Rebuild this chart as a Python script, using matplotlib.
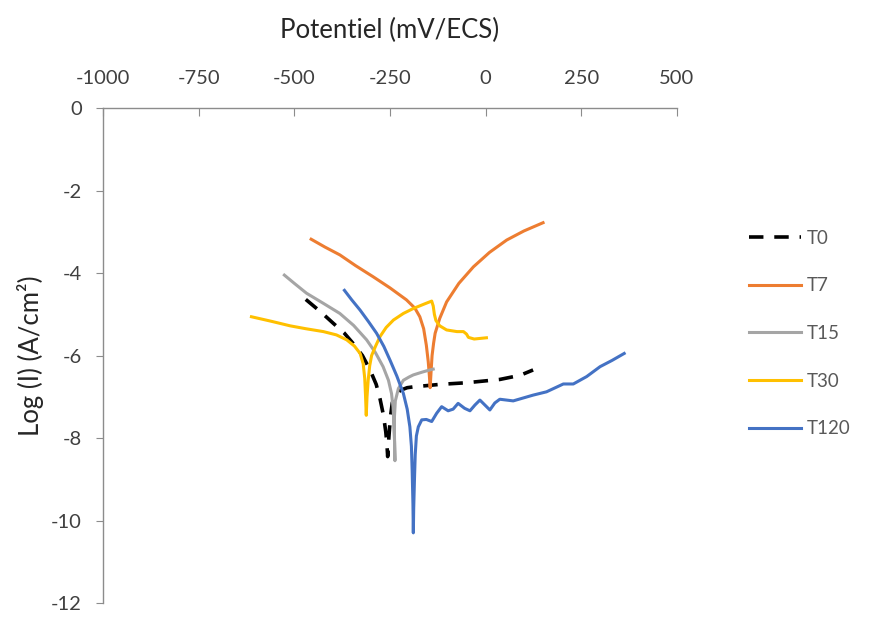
import matplotlib
matplotlib.use("Agg")
import matplotlib.pyplot as plt

# potentiel (mV/ECS) vs log(I)
t0_x = [-470, -430, -398, -370, -346, -322, -302, -286, -276, -267, -261, -258, -256, -253, -249, -244, -236, -222,
        -205, -189, -120, -50, 37, 90, 124]
t0_y = [-4.64, -4.95, -5.22, -5.45, -5.71, -6.0, -6.35, -6.7, -7.05, -7.45, -7.85, -8.15, -8.45, -8.0, -7.5, -7.15,
        -6.95, -6.84, -6.78, -6.76, -6.7, -6.66, -6.58, -6.48, -6.35]

t7_x = [-456, -420, -381, -340, -294, -250, -207, -185, -172, -162, -155, -150, -147, -145, -143, -140, -136, -132,
        -120, -102, -70, -32, 10, 55, 100, 150]
t7_y = [-3.18, -3.37, -3.56, -3.82, -4.09, -4.36, -4.65, -4.85, -5.06, -5.35, -5.75, -6.15, -6.5, -6.78, -6.45,
        -6.0, -5.7, -5.46, -5.1, -4.7, -4.25, -3.85, -3.5, -3.2, -2.98, -2.78]

t15_x = [-526, -500, -468, -425, -381, -345, -311, -288, -268, -254, -246, -242, -240, -238, -237, -239, -236, -228,
         -215, -200, -189, -165, -146, -137]
t15_y = [-4.05, -4.25, -4.49, -4.73, -4.98, -5.27, -5.62, -5.93, -6.27, -6.6, -6.92, -7.25, -7.6, -8.1, -8.55,
         -7.6, -7.1, -6.8, -6.6, -6.52, -6.47, -6.4, -6.35, -6.33]

t30_x = [-612, -560, -511, -470, -424, -390, -363, -343, -328, -320, -316, -314, -312, -310, -307, -303, -298, -288,
         -276, -260, -241, -215, -189, -160, -141, -137, -134, -130, -120, -102, -75, -58, -50, -45, -30, 2]
t30_y = [-5.06, -5.17, -5.28, -5.35, -5.42, -5.5, -5.62, -5.77, -5.95, -6.2, -6.55, -6.95, -7.45, -7.0, -6.6,
         -6.25, -6.0, -5.78, -5.54, -5.32, -5.14, -4.98, -4.86, -4.75, -4.68, -4.8, -5.0, -5.15, -5.28, -5.38,
         -5.42, -5.42, -5.48, -5.56, -5.6, -5.57]

t120_x = [-369, -350, -328, -306, -285, -266, -250, -232, -215, -205, -198, -194, -192, -190, -189, -188, -186, -184,
          -181, -176, -167, -155, -141, -128, -115, -98, -85, -72, -55, -41, -28, -15, -2, 11, 24, 37, 72, 124, 159,
          203, 229, 264, 299, 330, 362]
t120_y = [-4.42, -4.65, -4.90, -5.18, -5.46, -5.78, -6.11, -6.5, -6.92, -7.3, -7.73, -8.2, -8.8, -9.6, -10.3, -9.7,
          -9.0, -8.4, -7.95, -7.73, -7.56, -7.55, -7.6, -7.4, -7.24, -7.34, -7.3, -7.16, -7.28, -7.34, -7.2, -7.08,
          -7.2, -7.32, -7.15, -7.06, -7.10, -6.96, -6.88, -6.69, -6.69, -6.51, -6.27, -6.12, -5.95]

x_ticks = [-1000, -750, -500, -250, 0, 250, 500]
y_ticks = [0, -2, -4, -6, -8, -10, -12]

plt.rcParams['font.family'] = ['Lato', 'DejaVu Sans']
plt.rcParams['axes.unicode_minus'] = False

fig = plt.figure(figsize=(8.74, 6.21), dpi=100)
ax = fig.add_axes([0.1178, 0.029, 0.6568, 0.797])

lw = 2.2
ax.plot(t0_x, t0_y, color="black", lw=2.6, dashes=(4, 3), label="T0")
ax.plot(t7_x, t7_y, color="#ED7D31", lw=lw, label="T7")
ax.plot(t15_x, t15_y, color="#A5A5A5", lw=lw, label="T15")
ax.plot(t30_x, t30_y, color="#FFC000", lw=lw, label="T30")
ax.plot(t120_x, t120_y, color="#4472C4", lw=lw, label="T120")

ax.set_xlim(-1000, 500)
ax.set_ylim(-12, 0)
ax.set_xticks(x_ticks)
ax.set_yticks(y_ticks)

# axis frame: only top (y=0 line) and left, Excel style
for side in ["right", "bottom"]:
    ax.spines[side].set_visible(False)
for side in ["top", "left"]:
    ax.spines[side].set_color("#8C8C8C")
    ax.spines[side].set_linewidth(1.0)

ax.xaxis.set_ticks_position("top")
ax.xaxis.set_label_position("top")
ax.tick_params(axis="x", direction="in", length=6, color="#8C8C8C", pad=15, labelsize=14.5, labelcolor="#404040")
ax.tick_params(axis="y", direction="out", length=5, color="#8C8C8C", pad=10, labelsize=14.5, labelcolor="#404040")

ax.set_xlabel("Potentiel (mV/ECS)", fontsize=18.5, labelpad=23, color="#262626")
ax.set_ylabel("Log (I) (A/cm²)", fontsize=18.5, labelpad=5, color="#262626")

ax.legend(loc="upper left", bbox_to_anchor=(0.848, 0.642), bbox_transform=fig.transFigure,
          frameon=False, fontsize=13.5, handlelength=2.8, handletextpad=0.3, labelspacing=1.63,
          labelcolor="#595959", borderaxespad=0)

plt.savefig("out.png", dpi=100)
